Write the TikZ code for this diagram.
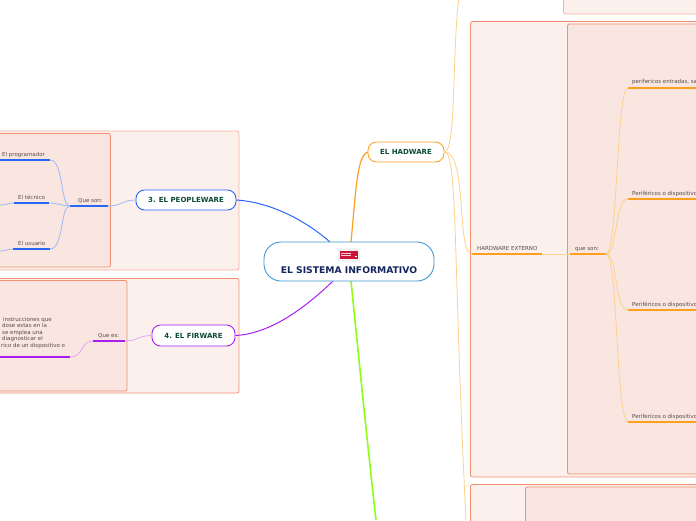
\documentclass[tikz,border=0pt]{standalone}
\usepackage{fontspec}
\setmainfont{DejaVu Sans}
\definecolor{panelA}{HTML}{FCF0EC}
\definecolor{panelB}{HTML}{FAE6E0}
\definecolor{panelLine}{HTML}{F09070}
\definecolor{cBlue}{HTML}{2A66F5}
\definecolor{cBlueL}{HTML}{9DB7F7}
\definecolor{cPur}{HTML}{A81EF0}
\definecolor{cPurL}{HTML}{DDA6F6}
\definecolor{cOr}{HTML}{FF9F1E}
\definecolor{cOrL}{HTML}{FDD08E}
\definecolor{cGreen}{HTML}{8CFF14}
\definecolor{cCent}{HTML}{3F97D6}
\definecolor{tGreen}{HTML}{0C4A3A}
\definecolor{tNavy}{HTML}{14245C}
\definecolor{tGray}{HTML}{554C4A}
\definecolor{cRed}{HTML}{C9163A}
\tikzset{
  x=1pt,y=-1pt,
  panelout/.style={draw=panelLine,fill=panelA,line width=.8pt,rounded corners=2pt},
  panelin/.style={draw=panelLine,fill=panelB,line width=.8pt,rounded corners=2pt},
  topic/.style={draw,fill=white,line width=.9pt,rounded corners=8.5pt,font=\bfseries\fontsize{7}{8}\selectfont,text=tGreen,inner sep=0pt,anchor=center},
  lab/.style={font=\fontsize{5.5}{6.5}\selectfont,text=tGray,inner sep=0pt,anchor=base west},
  bar/.style={line width=1.2pt},
  thin/.style={line width=.8pt},
}
\begin{document}
\begin{tikzpicture}
\useasboundingbox (0,0) rectangle (696,520);
\clip (0,0) rectangle (696,520);
% panels
\draw[panelout,draw=panelLine!70] (-10,131) rectangle (239,270);
\draw[panelin] (-10,133.5) rectangle (110.5,267);
\draw[panelout] (-10,278.5) rectangle (239,393);
\draw[panelin] (-10,280.5) rectangle (127,391);
\draw[panelout,draw=panelLine!70] (563.5,-10) rectangle (710,14);
\draw[panelout] (470.5,21.5) rectangle (710,477);
\draw[panelin] (567.5,24) rectangle (710,474);
\draw[panelout] (470.5,484.5) rectangle (710,530);
\draw[panelin] (525.5,487) rectangle (710,530);
% named points
\coordinate (rU) at (351,242);
\coordinate (rD) at (351,281);
\coordinate (rBl) at (330,242);
\coordinate (rPu) at (333,281);
\coordinate (gEnd) at (376,520);
\coordinate (hR) at (444,152);
\coordinate (hTop) at (458.5,0);
\coordinate (hBot) at (466,520);
\coordinate (he0) at (472,254);
\coordinate (he1) at (542,254);
\coordinate (qs0) at (570,254);
\coordinate (qs1) at (606,254);
\coordinate (p1) at (628,88);
\coordinate (p2) at (628,199);
\coordinate (p3) at (628,310);
\coordinate (p4) at (628,422);
\coordinate (p1e) at (696,88);
\coordinate (p2e) at (696,199);
\coordinate (p3e) at (696,310);
\coordinate (p4e) at (696,422);
\coordinate (qb1) at (108,206);
\coordinate (qb0) at (70,206);
\coordinate (a1) at (50,160);
\coordinate (a0) at (0,160);
\coordinate (b1) at (49,203);
\coordinate (b0) at (14,203);
\coordinate (bx) at (0,205);
\coordinate (c1) at (50,249);
\coordinate (c0) at (13,249);
\coordinate (cx) at (0,251);
\coordinate (qp1) at (125,341);
\coordinate (qp0) at (93,341);
\coordinate (d1) at (70,357);
\coordinate (d0) at (0,357);
% main branches run under the topics
\coordinate (hwW) at (368,152);
\coordinate (peE) at (236,200);
\coordinate (fiE) at (235,335.5);
\draw[cBlue,line width=1pt] (peE) .. controls (270,202) and (305,220) .. (rBl);
\draw[cPur,line width=1pt] (fiE) .. controls (270,334) and (305,308) .. (rPu);
\draw[cOr,line width=1.2pt] (hwW) .. controls (357,155) and (356,190) .. (rU);
\draw[cGreen,line width=1.6pt] (rD) .. controls (358,350) and (368,450) .. (gEnd);
% topics
\node[topic,draw=cCent,minimum width=170pt,minimum height=39pt,rounded corners=17pt] (root) at (349,261.5) {};
\node[topic,draw=cOr,minimum width=76pt,minimum height=20pt] (hw) at (406,152) {\raisebox{-.5pt}{EL HADWARE}};
\node[topic,draw=cBlue,minimum width=100pt,minimum height=20pt] (pe) at (186,200) {\raisebox{-.5pt}{3. EL PEOPLEWARE}};
\node[topic,draw=cPur,minimum width=83pt,minimum height=21pt] (fi) at (193.5,335.5) {\raisebox{-.5pt}{4. EL FIRWARE}};
\node[font=\bfseries\fontsize{9.2}{10}\selectfont,text=tNavy,inner sep=0pt] (roott) at (349,270.5) {EL SISTEMA INFORMATIVO};
% icon
\fill[gray!10,rounded corners=1pt] (338,248) rectangle (360,262);
\fill[cRed] (339.5,251) rectangle (358,257.5);
\fill[cRed] (339.5,258.3) rectangle (358,259.3);
\draw[white!80!cRed,line width=.4pt] (341,252.7) -- (351,252.7) (341,254.8) -- (351,254.8);
\draw[white,line width=.4pt] (354.5,255.8) -- (356.5,255.8);
% hardware light branches
\draw[cOrL,thin] (hw.east) .. controls (456,152) and (452,60) .. (hTop);
\draw[cOrL,thin] (hw.east) .. controls (468,152) and (456,254) .. (he0);
\draw[cOrL,thin] (hw.east) .. controls (458,152) and (453,260) .. (hBot);
\draw[cOrL,thin] (he1) -- (qs0);
\draw[cOr,bar] (he0) -- (he1);
\draw[cOr,bar] (qs0) -- (qs1);
\draw[cOrL,thin] (qs1) .. controls (618,254) and (616,88) .. (p1);
\draw[cOrL,thin] (qs1) .. controls (618,254) and (614,199) .. (p2);
\draw[cOrL,thin] (qs1) .. controls (618,254) and (614,310) .. (p3);
\draw[cOrL,thin] (qs1) .. controls (618,254) and (616,422) .. (p4);
\draw[cOr,bar] (p1) -- (p1e);
\draw[cOr,bar] (p2) -- (p2e);
\draw[cOr,bar] (p3) -- (p3e);
\draw[cOr,bar] (p4) -- (p4e);
% people branches
\draw[cBlueL,thin] (pe.west) .. controls (122,200) and (122,206) .. (qb1);
\draw[cBlue,bar] (qb0) -- (qb1);
\draw[cBlueL,thin] (qb0) .. controls (60,206) and (64,160) .. (a1);
\draw[cBlueL,thin] (qb0) .. controls (62,206) and (58,203) .. (b1);
\draw[cBlueL,thin] (qb0) .. controls (60,206) and (64,249) .. (c1);
\draw[cBlueL,thin] (b0) .. controls (8,203) and (6,205) .. (bx);
\draw[cBlueL,thin] (c0) .. controls (8,249) and (6,251) .. (cx);
\draw[cBlue,bar] (a0) -- (a1);
\draw[cBlue,bar] (b0) -- (b1);
\draw[cBlue,bar] (c0) -- (c1);
% firware branches
\draw[cPurL,thin] (fi.west) .. controls (138,335.5) and (138,341) .. (qp1);
\draw[cPur,bar] (qp0) -- (qp1);
\draw[cPurL,thin] (qp0) .. controls (80,341) and (84,357) .. (d1);
\draw[cPur,bar] (d0) -- (d1);
% labels
\node[lab] (l1) at (2,156) {El programador};
\node[lab] (l2) at (18,199) {El técnico};
\node[lab] (l3) at (18,245) {El usuario};
\node[lab] (l4) at (78,202) {Que son:};
\node[lab] (l5) at (98,337) {Que es:};
\node[lab] (l6) at (3,321) {instrucciones que};
\node[lab] (l7) at (2,327.5) {dose estas en la};
\node[lab] (l8) at (2,334) {se emplea una};
\node[lab] (l9) at (2,340.5) {diagnosticar el};
\node[lab] (l10) at (1,347) {rico de un dispositivo o};
\node[lab] (l11) at (477,250) {HARDWARE EXTERNO};
\node[lab] (l12) at (575,250) {que son:};
\node[lab] (l13) at (632,83) {perifericos entradas, sa};
\node[lab] (l14) at (632,195) {Periféricos o dispositivo};
\node[lab] (l15) at (632,306) {Periféricos o dispositivo};
\node[lab] (l16) at (632,418) {Periferícos o dispositivo};
\end{tikzpicture}
\end{document}
